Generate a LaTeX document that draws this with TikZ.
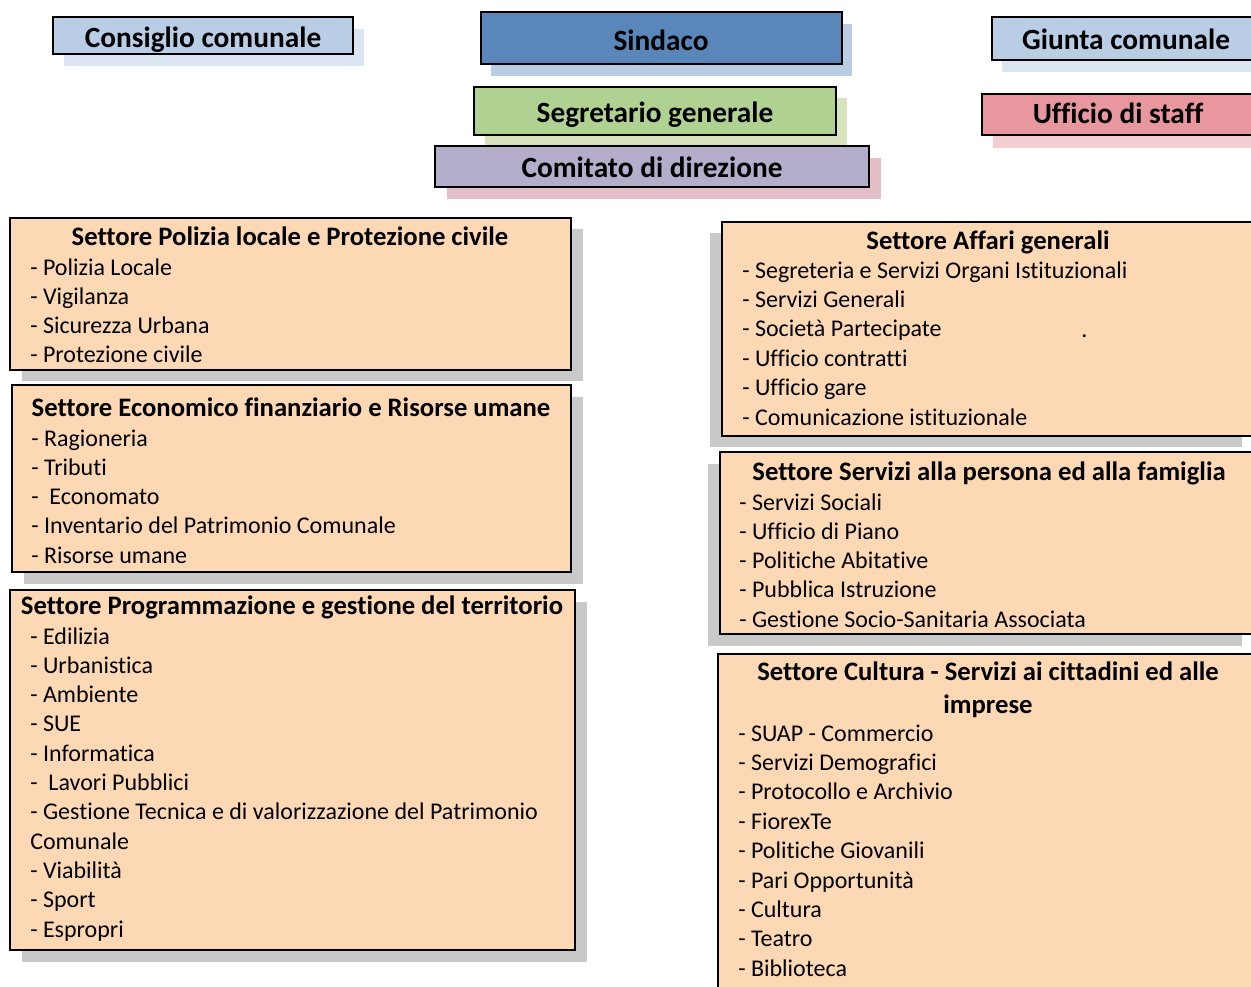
\documentclass[tikz,border=0pt]{standalone}
\usepackage{fontspec}
\setmainfont{Carlito}[Ligatures={NoCommon}]
\definecolor{lblue}{HTML}{B9CDE5}
\definecolor{lbluesh}{HTML}{DCE6F2}
\definecolor{sind}{HTML}{5A86B9}
\definecolor{grn}{HTML}{AFD191}
\definecolor{grnsh}{HTML}{D8E4BE}
\definecolor{lav}{HTML}{B4AECB}
\definecolor{pinksh}{HTML}{E4BFC8}
\definecolor{staff}{HTML}{E9979F}
\definecolor{staffsh}{HTML}{F3CDD2}
\definecolor{orng}{HTML}{FDD8B4}
\definecolor{gsh}{HTML}{C9C9C9}
\newcommand\orgbox[9]{%
  \fill[#7] (#2+#8,#3+#9) rectangle (#4+#8,#5+#9);
  \node[boxst, fill=#6, minimum width={(#4-#2)*0.75pt}, minimum height={(#5-#3)*0.75pt}] (#1) at (#2,#3) {};}
\begin{document}
\begin{tikzpicture}[x=0.75pt,y=-0.75pt,
  boxst/.style={draw=black, line width=1.1pt, inner sep=0pt, outer sep=0pt, anchor=north west},
  toptext/.style={font=\fontsize{22pt}{26pt}\selectfont\bfseries, inner sep=0pt, anchor=base},
  titletext/.style={font=\fontsize{20pt}{24pt}\selectfont\bfseries, inner sep=0pt, anchor=base},
  bodytext/.style={font=\fontsize{18pt}{22pt}\selectfont, inner sep=0pt, anchor=base west}]
\useasboundingbox (0,0) rectangle (1251,986);
\clip (0,0) rectangle (1251,986);
% top boxes
\orgbox{cons}{53}{17}{353}{54}{lblue}{lbluesh}{11}{12}
\node[toptext] (cons-t) at (203,47) {Consiglio comunale};
\orgbox{sind}{481}{12}{842}{64}{sind}{lblue}{10}{12}
\node[toptext] (sind-t) at (661,50) {Sindaco};
\orgbox{segr}{474}{87}{836}{135}{grn}{grnsh}{11}{11}
\node[toptext] (segr-t) at (655,122) {Segretario generale};
\orgbox{comi}{435}{146}{869}{187}{lav}{pinksh}{12}{12}
\node[toptext] (comi-t) at (652,177) {Comitato di direzione};
\orgbox{giun}{992}{17}{1260}{60}{lblue}{lbluesh}{10}{12}
\node[toptext] (giun-t) at (1126,49) {Giunta comunale};
\orgbox{uff}{982}{94}{1256}{135}{staff}{staffsh}{11}{13}
\node[toptext] (uff-t) at (1118,123) {Ufficio di staff};
% left sectors
\orgbox{pol}{10}{218}{571}{370}{orng}{gsh}{12}{11}
\node[titletext] (pol-t) at (290,245) {Settore Polizia locale e Protezione civile};
\foreach \t [count=\i from 0] in {- Polizia Locale,- Vigilanza,- Sicurezza Urbana,- Protezione civile}
  \node[bodytext] (pol-\i) at (30,275+29.3*\i) {\t};
\orgbox{eco}{12}{385}{571}{572}{orng}{gsh}{12}{12}
\node[titletext] (eco-t) at (291,416) {Settore Economico finanziario e Risorse umane};
\foreach \t [count=\i from 0] in {- Ragioneria,- Tributi,{- \ Economato},- Inventario del Patrimonio Comunale,- Risorse umane}
  \node[bodytext] (eco-\i) at (31,446+29.3*\i) {\t};
\orgbox{prog}{10}{590}{575}{950}{orng}{gsh}{12}{12}
\node[titletext] (prog-t) at (292,614) {Settore Programmazione e gestione del territorio};
\foreach \t [count=\i from 0] in {- Edilizia,- Urbanistica,- Ambiente,- SUE,- Informatica,{- \ Lavori Pubblici},- Gestione Tecnica e di valorizzazione del Patrimonio,Comunale,- Viabilità,- Sport,- Espropri}
  \node[bodytext] (prog-\i) at (30,644+29.3*\i) {\t};
% right sectors
\orgbox{aff}{722}{222}{1254}{436}{orng}{gsh}{-12}{11}
\node[titletext] (aff-t) at (988,249) {Settore Affari generali};
\foreach \t [count=\i from 0] in {- Segreteria e Servizi Organi Istituzionali,- Servizi Generali,- Società Partecipate,- Ufficio contratti,- Ufficio gare,- Comunicazione istituzionale}
  \node[bodytext] (aff-\i) at (742,278+29.4*\i) {\t};
\node[bodytext] (aff-dot) at (1081,337) {.};
\orgbox{serv}{720}{452}{1254}{634}{orng}{gsh}{-12}{12}
\node[titletext] (serv-t) at (989,480) {Settore Servizi alla persona ed alla famiglia};
\foreach \t [count=\i from 0] in {- Servizi Sociali,- Ufficio di Piano,- Politiche Abitative,- Pubblica Istruzione,- Gestione Socio-Sanitaria Associata}
  \node[bodytext] (serv-\i) at (739,510+29.3*\i) {\t};
\node[boxst, fill=orng, minimum width={536*0.75pt}, minimum height={360*0.75pt}] (cult) at (718,654) {};
\node[titletext] (cult-t1) at (988,680) {Settore Cultura - Servizi ai cittadini ed alle};
\node[titletext] (cult-t2) at (988,713) {imprese};
\foreach \t [count=\i from 0] in {- SUAP - Commercio,- Servizi Demografici,- Protocollo e Archivio,- FiorexTe,- Politiche Giovanili,- Pari Opportunità,- Cultura,- Teatro,- Biblioteca}
  \node[bodytext] (cult-\i) at (738,741+29.4*\i) {\t};
\end{tikzpicture}
\end{document}
